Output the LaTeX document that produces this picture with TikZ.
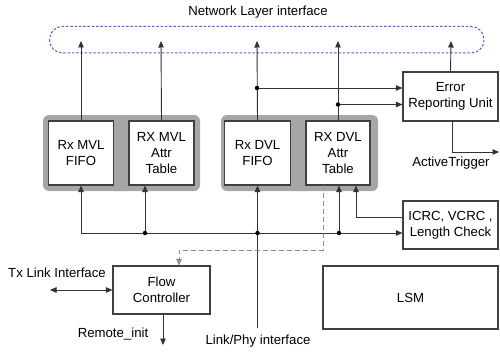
\documentclass[tikz,border=0pt]{standalone}
\usepackage{fontspec}
\setmainfont{Liberation Sans}
\usetikzlibrary{arrows.meta}
\begin{document}
\begin{tikzpicture}[x=1pt,y=-1pt,
  font=\fontsize{13.2}{16.3}\selectfont,
  wire/.style={draw=black!80,line width=0.9pt},
  arr/.style={wire,-{Triangle[length=6.5pt,width=5.5pt]}},
  darr/.style={wire,{Triangle[length=6.5pt,width=5.5pt]}-{Triangle[length=6.5pt,width=5.5pt]}},
  unit/.style={draw=black!75,line width=1.1pt,fill=white,align=center,inner sep=0pt},
  group/.style={fill=black!35,rounded corners=6pt,inner sep=0pt},
  dot/.style={circle,fill=black,inner sep=0pt,minimum size=4.5pt},
  lbl/.style={align=center,inner sep=0pt}]
\useasboundingbox (0,0) rectangle (500,353);

% network layer interface
\node[lbl] (netlbl) at (258,12) {Network Layer interface};
\draw[draw=blue!65,line width=1pt,dash pattern=on 2.5pt off 1.8pt,rounded corners=13pt]
  (49.5,26.5) rectangle (484,53);
\coordinate (nA) at (81,41);
\coordinate (nB) at (161,41);
\coordinate (nC) at (257,41);
\coordinate (nD) at (338,41);
\coordinate (nE) at (451,41);

% grey groups
\node[group,minimum width=157pt,minimum height=76pt] (g1) at (121.5,153) {};
\node[group,minimum width=157pt,minimum height=76pt] (g2) at (299.5,153) {};

% receive buffers and tables
\node[unit,minimum width=65pt,minimum height=64pt] (mvlf) at (81,153) {Rx MVL\\FIFO};
\node[unit,minimum width=65pt,minimum height=64pt] (mvla) at (161.5,153) {RX MVL\\Attr\\Table};
\node[unit,minimum width=66pt,minimum height=64pt] (dvlf) at (257.5,153) {Rx DVL\\FIFO};
\node[unit,minimum width=64pt,minimum height=64pt] (dvla) at (338,153) {RX DVL\\Attr\\Table};

% side units
\node[unit,minimum width=95pt,minimum height=49pt] (eru) at (450.5,96.5) {Error\\Reporting Unit};
\node[unit,minimum width=95pt,minimum height=48pt] (icrc) at (450.5,225) {ICRC, VCRC ,\\Length Check};
\node[unit,minimum width=97pt,minimum height=48pt] (flow) at (161.5,290) {Flow\\Controller};
\node[unit,minimum width=175pt,minimum height=63pt] (lsm) at (410.5,297.5) {LSM};

% outputs to the network layer
\draw[arr] (mvlf.north) -- (nA);
\draw[arr] (mvla.north) -- (nB);
\draw[arr] (dvlf.north) -- (nC);
\draw[arr] (dvla.north) -- (nD);
\draw[arr] (eru.north) -- (nE);

% taps into the error reporting unit
\coordinate (tapC) at (257,88);
\coordinate (tapD) at (338,104.5);
\draw[arr] (tapC) -- (tapC -| eru.west);
\draw[arr] (tapD) -- (tapD -| eru.west);
\node[dot] (dC) at (tapC) {};
\node[dot] (dD) at (tapD) {};

% active trigger
\coordinate (atT) at (452,121);
\coordinate (atC) at (452,152);
\coordinate (atE) at (499,152);
\draw[arr] (atT) -- (atC) -- (atE);
\node[lbl] (atlbl) at (451,163.5) {ActiveTrigger};

% check result back into the DVL table
\coordinate (ckW) at (icrc.west |- 0,217);
\coordinate (ckC) at (356,217);
\draw[arr] (ckW) -- (ckC) -- (ckC |- dvla.south);

% receive bus
\coordinate (busW) at (81,233);
\coordinate (busA) at (145,233);
\coordinate (busC) at (257.5,233);
\coordinate (busD) at (339,233);
\coordinate (busE) at (icrc.west |- 0,233);
\draw[arr] (busW) -- (busE);
\draw[arr] (busW) -- (mvlf.south);
\draw[arr] (busA) -- (busA |- mvla.south);
\draw[arr] (busD) -- (busD |- dvla.south);

% link/phy input
\node[lbl] (phylbl) at (258,341) {Link/Phy interface};
\coordinate (phyS) at (257.5,328);
\draw[arr] (phyS) -- (dvlf.south);
\node[dot] (dA) at (busA) {};
\node[dot] (dCb) at (busC) {};
\node[dot] (dDb) at (busD) {};

% credit path to the flow controller
\coordinate (fc1) at (323,185);
\coordinate (fc2) at (323,250);
\coordinate (fc3) at (179,250);
\draw[arr,draw=black!45,dash pattern=on 5pt off 3pt] (fc1) -- (fc2) -- (fc3) -- (fc3 |- flow.north);

% tx link and remote init
\node[lbl] (txlbl) at (57,273) {Tx Link Interface};
\coordinate (txW) at (50,290);
\draw[darr] (txW) -- (flow.west);
\coordinate (riS) at (163,345);
\draw[arr] (flow.south -| riS) -- (riS);
\node[lbl] (rilbl) at (113,334) {Remote\_init};
\end{tikzpicture}
\end{document}
